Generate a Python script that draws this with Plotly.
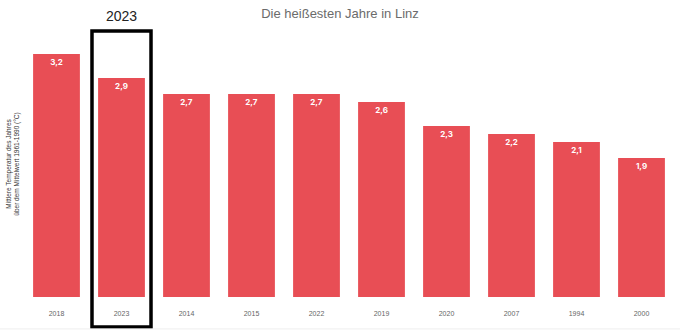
import plotly.graph_objects as go

years = ["2018", "2023", "2014", "2015", "2022", "2019", "2020", "2007", "1994", "2000"]
values = [3.2, 2.9, 2.7, 2.7, 2.7, 2.6, 2.3, 2.2, 2.1, 1.9]
labels = [f"{v:.1f}".replace(".", ",") for v in values]

BAR = "#E84E55"

fig = go.Figure(go.Bar(
    x=years, y=values, text=labels,
    textposition="inside", insidetextanchor="end",
    textfont=dict(family="Inter, Liberation Sans, sans-serif", size=8, color="white", weight="bold"),
    marker=dict(color=BAR, line=dict(width=0)),
    hoverinfo="skip", cliponaxis=True,
))

hi = years.index("2023")

fig.update_layout(
    width=680, height=331,
    margin=dict(l=24, r=6, t=31, b=34),
    paper_bgcolor="white", plot_bgcolor="white",
    bargap=0.28,
    showlegend=False,
    title=dict(text="Die heißesten Jahre in Linz", x=0.5, xanchor="center",
               y=1 - 13/331, yanchor="middle", yref="container",
               font=dict(family="Liberation Sans, Arial, sans-serif", size=13, color="#6b6b6b")),
    xaxis=dict(type="category", range=[-0.5, len(years) - 0.5], autorange=False,
               showgrid=False, zeroline=False, showline=False,
               ticks="", tickfont=dict(family="Liberation Sans, Arial, sans-serif", size=7, color="#666"),
               ticklabelstandoff=11),
    yaxis=dict(range=[0.1625, 3.4875], autorange=False, showgrid=False, zeroline=False, showline=False,
               showticklabels=False, ticks="",
               title=dict(text="Mittlere Temperatur des Jahres<br>über dem Mittelwert 1961-1990 (°C)",
                          font=dict(family="Liberation Sans, Arial, sans-serif", size=6.5, color="#333"),
                          standoff=2)),
    font=dict(family="Liberation Sans, Arial, sans-serif"),
)

# highlight box around 2023
fig.add_shape(type="rect", xref="x", yref="paper",
              x0=hi - 0.454, x1=hi + 0.454, y0=-0.113, y1=1.0,
              line=dict(color="black", width=3.5), fillcolor="rgba(0,0,0,0)", layer="above")
fig.add_annotation(x=hi, y=1.055, xref="x", yref="paper", text="2023",
                   showarrow=False, yanchor="middle",
                   font=dict(family="Liberation Sans, Arial, sans-serif", size=14, color="#222"))
# faint bottom line
fig.add_shape(type="line", xref="paper", yref="paper", x0=-0.04, x1=1.01, y0=-0.12, y1=-0.12,
              line=dict(color="#eeeeee", width=1))

fig.write_html("out.html")
